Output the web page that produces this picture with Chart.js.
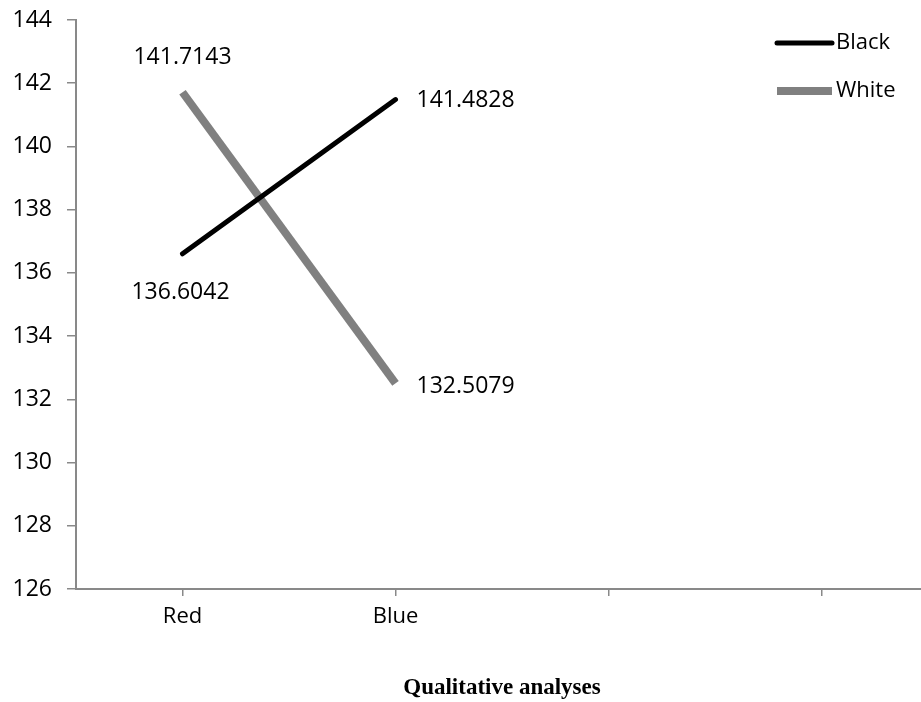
<!DOCTYPE html>
<html>
<head>
<meta charset="utf-8">
<script src="https://cdn.jsdelivr.net/npm/chart.js@4/dist/chart.umd.min.js"></script>
<style>
  html, body { margin: 0; padding: 0; background: #fff; overflow: hidden; }
  #wrap { width: 928px; height: 702px; }
</style>
</head>
<body>
<div id="wrap"><canvas id="chart"></canvas></div>
<script>
// data
const categories = ["Red", "Blue", "", ""];
const blackValues = [136.6042, 141.4828, null, null];
const whiteValues = [141.7143, 132.5079, null, null];
const blackLabels = ["136.6042", "141.4828"];
const whiteLabels = ["141.7143", "132.5079"];
const yTicks = [126, 128, 130, 132, 134, 136, 138, 140, 142, 144];

const axisGray = "#898989";
const labelFont = "23px 'Open Sans'";

// point value labels, placed around each point
const valueLabels = {
  id: "valueLabels",
  afterDatasetsDraw(chart) {
    const ctx = chart.ctx;
    const b = chart.getDatasetMeta(0).data;
    const w = chart.getDatasetMeta(1).data;
    ctx.save();
    ctx.font = labelFont;
    ctx.fillStyle = "#000";
    ctx.textBaseline = "middle";
    ctx.textAlign = "center";
    ctx.fillText(blackLabels[0], b[0].x - 2, b[0].y + 39);
    ctx.fillText(whiteLabels[0], w[0].x, w[0].y - 35);
    ctx.textAlign = "left";
    ctx.fillText(blackLabels[1], b[1].x + 21, b[1].y + 1);
    ctx.fillText(whiteLabels[1], w[1].x + 21, w[1].y + 3);
    ctx.restore();
  }
};

// legend in the top right corner
const sideLegend = {
  id: "sideLegend",
  afterDraw(chart) {
    const ctx = chart.ctx;
    const x0 = 777, x1 = 832;
    ctx.save();
    chart.data.datasets.forEach((ds, i) => {
      const y = 43 + i * 48;
      ctx.beginPath();
      ctx.strokeStyle = ds.borderColor;
      ctx.lineWidth = ds.borderWidth;
      ctx.lineCap = ds.borderCapStyle;
      ctx.moveTo(x0, y);
      ctx.lineTo(x1, y);
      ctx.stroke();
      ctx.font = "22px 'Open Sans'";
      ctx.fillStyle = "#000";
      ctx.textBaseline = "middle";
      ctx.textAlign = "left";
      ctx.fillText(ds.label, 836, y);
    });
    ctx.restore();
  }
};

new Chart(document.getElementById("chart"), {
  type: "line",
  data: {
    labels: categories,
    datasets: [
      {
        label: "Black",
        data: blackValues,
        borderColor: "#000000",
        borderWidth: 5,
        borderCapStyle: "round",
        pointRadius: 0,
        tension: 0
      },
      {
        label: "White",
        data: whiteValues,
        borderColor: "#808080",
        borderWidth: 8,
        borderCapStyle: "butt",
        pointRadius: 0,
        tension: 0
      }
    ]
  },
  options: {
    responsive: true,
    maintainAspectRatio: false,
    animation: false,
    layout: { padding: { top: 20, right: 0, left: 0, bottom: 0 } },
    plugins: {
      legend: { display: false },
      tooltip: { enabled: false }
    },
    scales: {
      x: {
        offset: true,
        grid: {
          offset: false,
          drawOnChartArea: false,
          drawTicks: true,
          tickLength: 7,
          color: axisGray,
          lineWidth: 1.5
        },
        border: { color: axisGray, width: 2 },
        ticks: {
          color: "#000",
          font: { family: "'Open Sans'", size: 22 },
          padding: 8,
          maxRotation: 0,
          autoSkip: false
        },
        title: {
          display: true,
          text: "Qualitative analyses",
          color: "#000",
          font: { family: "'Liberation Serif'", size: 23, weight: "bold" },
          padding: { top: 46, bottom: 0 }
        },
        afterFit(scale) {
          scale.height = 113;
          scale.paddingLeft = 0;
          scale.paddingRight = 0;
        }
      },
      y: {
        min: 126,
        max: 144,
        afterBuildTicks(scale) {
          scale.ticks = yTicks.map(v => ({ value: v }));
        },
        grid: {
          drawOnChartArea: false,
          drawTicks: true,
          tickLength: 9,
          color: axisGray,
          lineWidth: 1.5
        },
        border: { color: axisGray, width: 2 },
        ticks: {
          color: "#000",
          font: { family: "'Open Sans'", size: 23 },
          padding: 15
        },
        afterFit(scale) {
          scale.width = 76;
          scale.paddingTop = 0;
          scale.paddingBottom = 0;
        }
      }
    }
  },
  plugins: [valueLabels, sideLegend]
});
</script>
</body>
</html>
